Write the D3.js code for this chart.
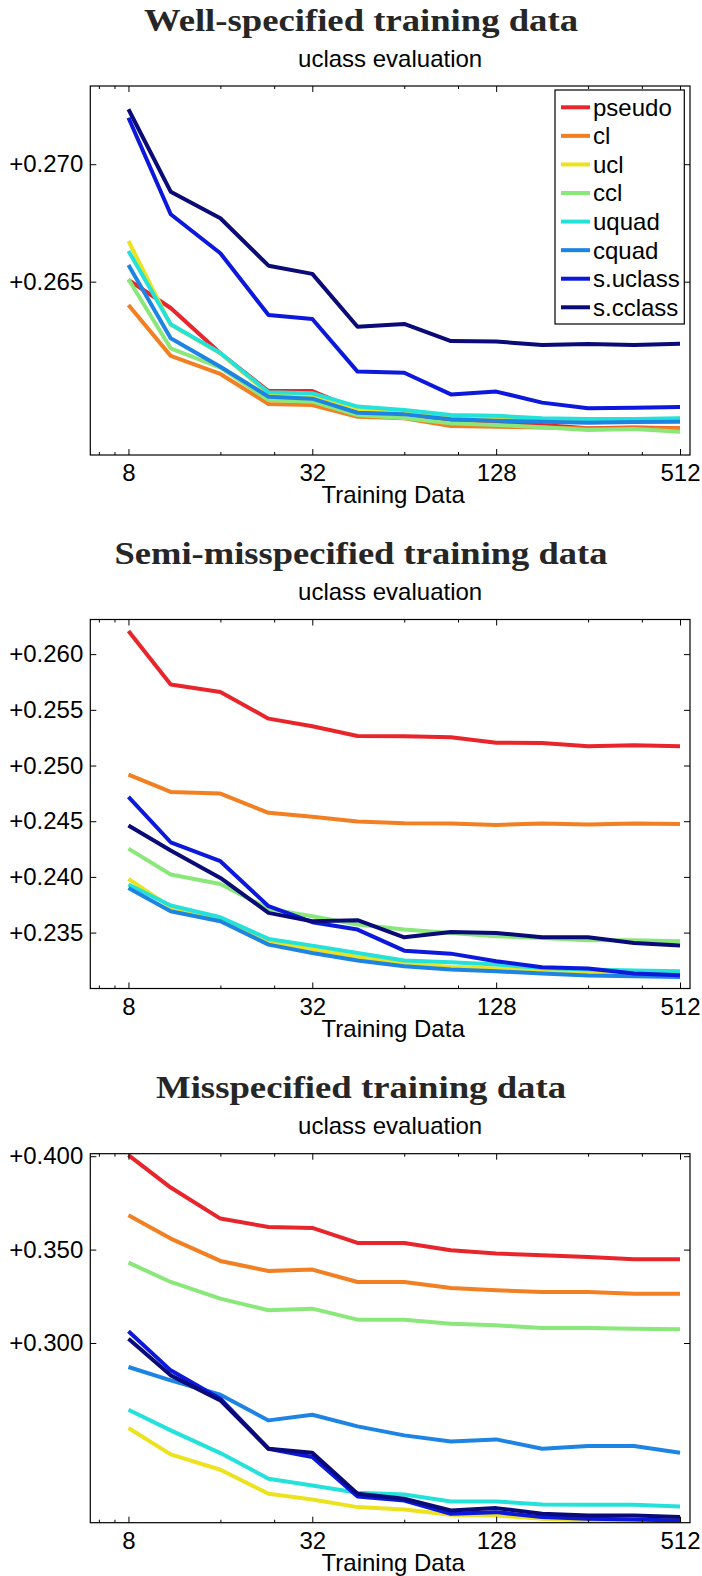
<!DOCTYPE html>
<html>
<head>
<meta charset="utf-8">
<script src="https://cdn.jsdelivr.net/npm/d3@7"></script>
<style>
  body { margin: 0; background: #fff; }
  svg { display: block; }
</style>
</head>
<body>
<svg id="fig" width="702" height="1576"></svg>
<script>
// Training set sizes (x axis, log2 scale)
const sizes = [8, 11, 16, 23, 32, 45, 64, 91, 128, 181, 256, 362, 512];
const xTicks = [8, 32, 128, 512];
const xMinorTicks = [6.4, 7.2, 16, 24, 64, 96, 256, 384];

const methods = ["pseudo", "cl", "ucl", "ccl", "uquad", "cquad", "s.uclass", "s.cclass"];
const methodColors = ["#e8252a", "#f27f22", "#ece21e", "#8ae87a", "#24e2da", "#1e84e4", "#0c18dc", "#0a0a78"];

// Well-specified training data
const wellTicks = [0.265, 0.270];
const wellLimits = [0.25762, 0.27333];
const wellPseudo  = [0.26507, 0.26388, 0.26195, 0.26034, 0.26034, 0.25954, 0.25942, 0.25904, 0.25897, 0.25890, 0.25876, 0.25879, 0.25876];
const wellCl      = [0.26401, 0.26184, 0.26107, 0.25979, 0.25975, 0.25925, 0.25918, 0.25885, 0.25882, 0.25879, 0.25875, 0.25876, 0.25876];
const wellUcl     = [0.26673, 0.26316, 0.26195, 0.26022, 0.26014, 0.25957, 0.25946, 0.25925, 0.25918, 0.25914, 0.25911, 0.25911, 0.25914];
const wellCcl     = [0.26510, 0.26216, 0.26134, 0.25996, 0.25989, 0.25932, 0.25919, 0.25897, 0.25890, 0.25880, 0.25868, 0.25873, 0.25861];
const wellUquad   = [0.26631, 0.26319, 0.26196, 0.26029, 0.26025, 0.25968, 0.25954, 0.25932, 0.25929, 0.25918, 0.25915, 0.25915, 0.25918];
const wellCquad   = [0.26571, 0.26259, 0.26138, 0.26010, 0.26002, 0.25942, 0.25935, 0.25914, 0.25908, 0.25904, 0.25899, 0.25902, 0.25904];
const wellSUclass = [0.27198, 0.26787, 0.26621, 0.26358, 0.26341, 0.26117, 0.26112, 0.26020, 0.26032, 0.25985, 0.25961, 0.25963, 0.25966];
const wellSCclass = [0.27234, 0.26883, 0.26770, 0.26568, 0.26533, 0.26308, 0.26320, 0.26247, 0.26245, 0.26230, 0.26235, 0.26230, 0.26236];

// Semi-misspecified training data
const semiTicks = [0.235, 0.240, 0.245, 0.250, 0.255, 0.260];
const semiLimits = [0.22998, 0.26311];
const semiPseudo  = [0.26207, 0.25727, 0.25661, 0.25421, 0.25352, 0.25265, 0.25262, 0.25253, 0.25205, 0.25202, 0.25172, 0.25181, 0.25172];
const semiCl      = [0.24919, 0.24763, 0.24748, 0.24575, 0.24539, 0.24497, 0.24482, 0.24479, 0.24467, 0.24479, 0.24470, 0.24479, 0.24476];
const semiUcl     = [0.23982, 0.23728, 0.23623, 0.23413, 0.23353, 0.23281, 0.23222, 0.23192, 0.23177, 0.23153, 0.23147, 0.23138, 0.23132];
const semiCcl     = [0.24254, 0.24021, 0.23937, 0.23713, 0.23647, 0.23572, 0.23527, 0.23497, 0.23467, 0.23452, 0.23431, 0.23431, 0.23422];
const semiUquad   = [0.23931, 0.23743, 0.23638, 0.23443, 0.23383, 0.23317, 0.23249, 0.23234, 0.23213, 0.23183, 0.23168, 0.23159, 0.23153];
const semiCquad   = [0.23901, 0.23692, 0.23602, 0.23392, 0.23317, 0.23249, 0.23198, 0.23168, 0.23153, 0.23132, 0.23114, 0.23108, 0.23102];
const semiSUclass = [0.24719, 0.24311, 0.24141, 0.23737, 0.23593, 0.23527, 0.23338, 0.23311, 0.23243, 0.23189, 0.23177, 0.23132, 0.23117];
const semiSCclass = [0.24461, 0.24237, 0.23991, 0.23677, 0.23602, 0.23611, 0.23458, 0.23506, 0.23497, 0.23458, 0.23458, 0.23407, 0.23383];

// Misspecified training data
const misTicks = [0.300, 0.350, 0.400];
const misLimits = [0.2038, 0.40134];
const misPseudo  = [0.40054, 0.38321, 0.36661, 0.36214, 0.36161, 0.35357, 0.35357, 0.34964, 0.34786, 0.34696, 0.34607, 0.34482, 0.34482];
const misCl      = [0.36839, 0.35589, 0.34393, 0.33857, 0.33929, 0.33268, 0.33268, 0.32946, 0.32821, 0.32732, 0.32732, 0.32643, 0.32643];
const misUcl     = [0.25446, 0.24036, 0.23214, 0.21929, 0.21625, 0.21214, 0.21089, 0.20804, 0.20768, 0.20589, 0.20500, 0.20411, 0.20357];
const misCcl     = [0.34304, 0.33268, 0.32375, 0.31750, 0.31839, 0.31250, 0.31250, 0.31036, 0.30946, 0.30804, 0.30804, 0.30768, 0.30732];
const misUquad   = [0.26429, 0.25321, 0.24107, 0.22732, 0.22375, 0.21982, 0.21893, 0.21518, 0.21518, 0.21357, 0.21339, 0.21339, 0.21250];
const misCquad   = [0.28714, 0.28000, 0.27232, 0.25857, 0.26161, 0.25536, 0.25054, 0.24732, 0.24839, 0.24339, 0.24482, 0.24482, 0.24125];
const misSUclass = [0.30625, 0.28536, 0.27018, 0.24339, 0.23893, 0.21786, 0.21571, 0.20857, 0.20946, 0.20679, 0.20589, 0.20554, 0.20500];
const misSCclass = [0.30232, 0.28268, 0.26929, 0.24339, 0.24125, 0.21929, 0.21661, 0.21036, 0.21161, 0.20857, 0.20768, 0.20768, 0.20679];

const panels = [
  { title: "Well-specified training data", titleWidth: 434, ticks: wellTicks, limits: wellLimits,
    series: [wellPseudo, wellCl, wellUcl, wellCcl, wellUquad, wellCquad, wellSUclass, wellSCclass], legend: true },
  { title: "Semi-misspecified training data", titleWidth: 493, ticks: semiTicks, limits: semiLimits,
    series: [semiPseudo, semiCl, semiUcl, semiCcl, semiUquad, semiCquad, semiSUclass, semiSCclass], legend: false },
  { title: "Misspecified training data", titleWidth: 410, ticks: misTicks, limits: misLimits,
    series: [misPseudo, misCl, misUcl, misCcl, misUquad, misCquad, misSUclass, misSCclass], legend: false }
];

// Layout
const boxLeft = 90.3, boxRight = 690, boxH = 369;
const panelTops = [86, 619.5, 1153.7];
const sans = "'Liberation Sans', Arial, Helvetica, sans-serif";
const serif = "'Liberation Serif', 'DejaVu Serif', serif";

const svg = d3.select("#fig");

const x = d3.scaleLog().base(2).domain([6, 552]).range([boxLeft, boxRight]);

panels.forEach((p, k) => {
  const top = panelTops[k];
  const bottom = top + boxH;
  const y = d3.scaleLinear().domain(p.limits).range([bottom, top]);
  const g = svg.append("g");

  // titles
  g.append("text")
    .attr("x", 361).attr("y", top - 55.3)
    .attr("text-anchor", "middle")
    .attr("font-family", serif).attr("font-weight", "bold").attr("font-size", 31)
    .attr("fill", "#262626")
    .attr("textLength", p.titleWidth).attr("lengthAdjust", "spacingAndGlyphs")
    .text(p.title);
  g.append("text")
    .attr("x", (boxLeft + boxRight) / 2).attr("y", top - 19.4)
    .attr("text-anchor", "middle")
    .attr("font-family", sans).attr("font-size", 24).attr("fill", "#000")
    .text("uclass evaluation");

  // clip region for the curves
  const clipId = "clip" + k;
  g.append("clipPath").attr("id", clipId)
    .append("rect").attr("x", boxLeft).attr("y", top)
    .attr("width", boxRight - boxLeft).attr("height", boxH);

  const line = d3.line()
    .x((d, i) => x(sizes[i]))
    .y(d => y(d));

  g.append("g").attr("clip-path", `url(#${clipId})`)
    .selectAll("path")
    .data(p.series)
    .join("path")
    .attr("d", line)
    .attr("fill", "none")
    .attr("stroke", (d, i) => methodColors[i])
    .attr("stroke-width", 4)
    .attr("stroke-linejoin", "round")
    .attr("stroke-linecap", "butt");

  // axes (ticks inside the box, mirrored on opposite sides)
  const styleAxis = sel => {
    sel.select(".domain").remove();
    sel.selectAll(".tick line").attr("stroke", "#000").attr("stroke-width", 1);
    sel.selectAll("text").attr("font-family", sans).attr("font-size", 24).attr("fill", "#000");
  };

  g.append("g").attr("transform", `translate(0,${bottom})`)
    .call(d3.axisBottom(x).tickValues(xTicks).tickFormat(d3.format("d")).tickSizeInner(-6).tickSizeOuter(0).tickPadding(9))
    .call(styleAxis);
  g.append("g").attr("transform", `translate(0,${bottom})`)
    .call(d3.axisBottom(x).tickValues(xMinorTicks).tickFormat("").tickSizeInner(-3).tickSizeOuter(0))
    .call(styleAxis);
  g.append("g").attr("transform", `translate(0,${top})`)
    .call(d3.axisTop(x).tickValues(xTicks).tickFormat("").tickSizeInner(-6).tickSizeOuter(0))
    .call(styleAxis);
  g.append("g").attr("transform", `translate(0,${top})`)
    .call(d3.axisTop(x).tickValues(xMinorTicks).tickFormat("").tickSizeInner(-3).tickSizeOuter(0))
    .call(styleAxis);

  g.append("g").attr("transform", `translate(${boxLeft},0)`)
    .call(d3.axisLeft(y).tickValues(p.ticks).tickFormat(d3.format("+.3f")).tickSizeInner(-6).tickSizeOuter(0).tickPadding(7))
    .call(styleAxis);
  g.append("g").attr("transform", `translate(${boxRight},0)`)
    .call(d3.axisRight(y).tickValues(p.ticks).tickFormat("").tickSizeInner(-6).tickSizeOuter(0))
    .call(styleAxis);

  // frame
  g.append("rect")
    .attr("x", boxLeft).attr("y", top)
    .attr("width", boxRight - boxLeft).attr("height", boxH)
    .attr("fill", "none").attr("stroke", "#000").attr("stroke-width", 1.2);

  // x label
  g.append("text")
    .attr("x", (boxLeft + boxRight) / 2 + 3).attr("y", bottom + 48)
    .attr("text-anchor", "middle")
    .attr("font-family", sans).attr("font-size", 24).attr("fill", "#000")
    .text("Training Data");

  // legend
  if (p.legend) {
    const lx = 555, ly = top + 4, lw = 129.3, lh = 234, rowH = 28.57;
    const lg = g.append("g");
    lg.append("rect")
      .attr("x", lx).attr("y", ly).attr("width", lw).attr("height", lh)
      .attr("fill", "#fff").attr("stroke", "#000").attr("stroke-width", 1.2);
    const rows = lg.selectAll("g.row").data(methods).join("g")
      .attr("class", "row")
      .attr("transform", (d, i) => `translate(0,${ly + 17.3 + i * rowH})`);
    rows.append("line")
      .attr("x1", lx + 6).attr("x2", lx + 35)
      .attr("stroke", (d, i) => methodColors[i]).attr("stroke-width", 4);
    rows.append("text")
      .attr("x", lx + 38).attr("dy", "0.35em")
      .attr("font-family", sans).attr("font-size", 24).attr("fill", "#000")
      .text(d => d);
  }
});
</script>
</body>
</html>
